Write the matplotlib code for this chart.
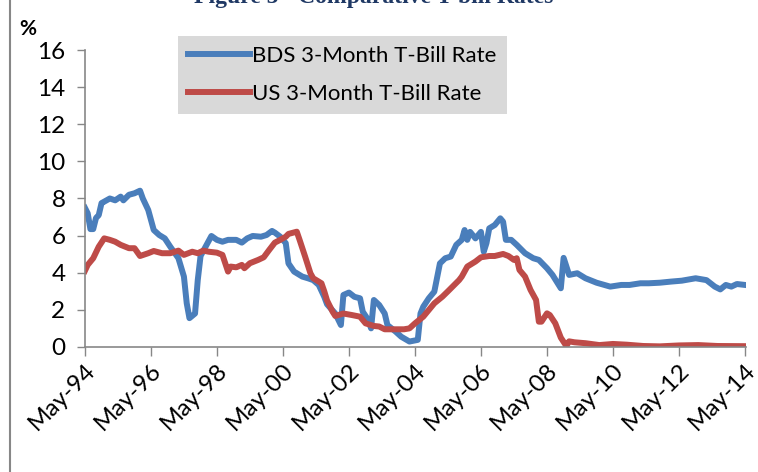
import matplotlib
matplotlib.use("Agg")
import matplotlib.pyplot as plt
import matplotlib.dates as mdates
import matplotlib.transforms as mtransforms
from matplotlib.lines import Line2D
from matplotlib.patches import Rectangle
import pandas as pd

# BDS 3-month T-bill rate (month, %)
BDS_DATES = [
    "1994-05", "1994-06", "1994-07", "1994-08", "1994-09", "1994-10", "1994-11", "1994-12",
    "1995-02", "1995-04", "1995-06", "1995-07", "1995-09", "1995-11", "1996-01", "1996-02",
    "1996-04", "1996-06", "1996-08", "1996-10", "1996-12", "1997-03", "1997-05", "1997-06",
    "1997-07", "1997-09", "1997-10", "1997-11", "1998-01", "1998-03", "1998-05", "1998-07",
    "1998-09", "1998-12", "1999-02", "1999-04", "1999-06", "1999-09", "1999-11", "2000-01",
    "2000-02", "2000-04", "2000-06", "2000-07", "2000-09", "2000-12", "2001-02", "2001-04",
    "2001-06", "2001-08", "2001-09", "2001-12", "2002-02", "2002-03", "2002-05", "2002-07",
    "2002-09", "2002-10", "2002-12", "2003-01", "2003-02", "2003-04", "2003-06", "2003-07",
    "2003-10", "2003-12", "2004-03", "2004-06", "2004-07", "2004-08", "2004-10", "2004-12",
    "2005-02", "2005-04", "2005-06", "2005-08", "2005-10", "2005-11", "2005-12", "2006-01",
    "2006-03", "2006-05", "2006-06", "2006-07", "2006-08", "2006-10", "2006-12", "2007-01",
    "2007-02", "2007-04", "2007-06", "2007-09", "2007-12", "2008-02", "2008-05", "2008-07",
    "2008-10", "2008-11", "2009-01", "2009-04", "2009-07", "2009-11", "2010-04", "2010-08",
    "2010-11", "2011-03", "2011-06", "2011-10", "2012-02", "2012-06", "2012-11", "2013-03",
    "2013-06", "2013-08", "2013-10", "2013-12", "2014-02", "2014-05",
]
BDS_RATE = [
    7.5, 7.2, 6.35, 6.35, 6.95, 7.1, 7.75, 7.83,
    8.0, 7.9, 8.1, 7.9, 8.2, 8.28, 8.42, 8.0,
    7.38, 6.3, 6.03, 5.85, 5.4, 4.78, 3.79, 2.35,
    1.55, 1.8, 3.6, 4.9, 5.45, 5.98, 5.77, 5.67,
    5.77, 5.77, 5.62, 5.85, 5.98, 5.94, 6.03, 6.25,
    6.16, 5.94, 5.59, 4.5, 4.06, 3.79, 3.7, 3.6,
    3.34, 2.7, 2.3, 1.8, 1.18, 2.8, 2.93, 2.7,
    2.62, 1.9, 1.45, 1.0, 2.53, 2.26, 1.8, 1.18,
    0.82, 0.55, 0.29, 0.38, 1.8, 2.17, 2.62, 2.98,
    4.5, 4.78, 4.87, 5.5, 5.77, 6.3, 5.77, 6.2,
    5.85, 6.2, 5.13, 5.59, 6.39, 6.57, 6.93, 6.75,
    5.77, 5.77, 5.5, 5.05, 4.78, 4.69, 4.24, 3.88,
    3.16, 4.8, 3.88, 3.97, 3.7, 3.46, 3.25, 3.34,
    3.34, 3.43, 3.43, 3.46, 3.52, 3.57, 3.7, 3.6,
    3.25, 3.1, 3.34, 3.25, 3.39, 3.34,
]

# US 3-month T-bill rate (month, %)
US_DATES = [
    "1994-05", "1994-06", "1994-08", "1994-10", "1994-12", "1995-02", "1995-04", "1995-06",
    "1995-09", "1995-11", "1996-01", "1996-04", "1996-06", "1996-09", "1996-12", "1997-03",
    "1997-05", "1997-08", "1997-10", "1997-12", "1998-02", "1998-05", "1998-07", "1998-09",
    "1998-10", "1998-12", "1999-02", "1999-03", "1999-05", "1999-08", "1999-10", "1999-12",
    "2000-02", "2000-04", "2000-06", "2000-07", "2000-10", "2000-11", "2001-01", "2001-03",
    "2001-04", "2001-06", "2001-07", "2001-08", "2001-09", "2001-11", "2001-12", "2002-03",
    "2002-06", "2002-09", "2002-11", "2003-02", "2003-04", "2003-06", "2003-10", "2004-01",
    "2004-03", "2004-05", "2004-08", "2004-10", "2004-12", "2005-03", "2005-05", "2005-09",
    "2005-10", "2005-12", "2006-03", "2006-05", "2006-08", "2006-10", "2007-01", "2007-03",
    "2007-05", "2007-06", "2007-07", "2007-09", "2007-11", "2008-01", "2008-02", "2008-03",
    "2008-05", "2008-06", "2008-08", "2008-10", "2008-12", "2009-01", "2009-03", "2009-07",
    "2009-12", "2010-05", "2010-10", "2011-04", "2011-10", "2012-05", "2012-12", "2013-07",
    "2014-05",
]
US_RATE = [
    4.1, 4.42, 4.78, 5.4, 5.85, 5.77, 5.67, 5.5,
    5.32, 5.32, 4.9, 5.05, 5.17, 5.05, 5.05, 5.19,
    4.96, 5.13, 5.05, 5.19, 5.13, 5.08, 4.96, 4.06,
    4.33, 4.29, 4.42, 4.24, 4.51, 4.69, 4.83, 5.23,
    5.62, 5.77, 5.94, 6.09, 6.21, 5.77, 4.87, 3.97,
    3.7, 3.52, 3.43, 3.0, 2.5, 1.9, 1.67, 1.8,
    1.72, 1.63, 1.27, 1.13, 1.1, 0.95, 0.95, 0.95,
    1.0, 1.27, 1.63, 1.99, 2.35, 2.71, 3.0, 3.6,
    3.79, 4.33, 4.6, 4.83, 4.9, 4.9, 5.01, 4.9,
    4.69, 4.78, 4.15, 3.79, 3.07, 2.53, 1.36, 1.36,
    1.81, 1.72, 1.27, 0.5, 0.05, 0.3, 0.25, 0.2,
    0.1, 0.16, 0.12, 0.05, 0.03, 0.08, 0.1, 0.05,
    0.04,
]

TICK_DATES = ["1994-05", "1996-05", "1998-05", "2000-05", "2002-05", "2004-05",
              "2006-05", "2008-05", "2010-05", "2012-05", "2014-05"]
Y_TICKS = [0, 2, 4, 6, 8, 10, 12, 14, 16]

BLUE = "#4a7ebb"
RED = "#be4b48"
GREY = "#878787"
FONT = ["Lato", "DejaVu Sans"]
FS = 16
TICK_FS = 17.5

plt.rcParams["font.family"] = FONT

fig = plt.figure(figsize=(7.58, 4.72), dpi=100)
ax = fig.add_axes([0.112, 0.265, 0.872, 0.629])

bds_x = pd.to_datetime(BDS_DATES)
us_x = pd.to_datetime(US_DATES)
ax.plot(bds_x, BDS_RATE, color=BLUE, lw=4.3, solid_joinstyle="round")
ax.plot(us_x, US_RATE, color=RED, lw=4.3, solid_joinstyle="round")

ticks = pd.to_datetime(TICK_DATES)
ax.set_xlim(ticks[0], ticks[-1] + pd.Timedelta(days=10))
ax.set_ylim(0, 16)
ax.set_xticks(ticks)
ax.xaxis.set_major_formatter(mdates.DateFormatter("%b-%y"))
ax.set_yticks(Y_TICKS)
ax.tick_params(axis="x", direction="out", length=6.5, width=1, color=GREY,
               labelsize=TICK_FS, pad=5)
ax.tick_params(axis="y", direction="out", length=6, width=1, color=GREY,
               labelsize=TICK_FS, pad=8)
# Excel-style 45 degree date labels, ending just right of the tick
shift = mtransforms.ScaledTranslation(5 / 72, -3 / 72, fig.dpi_scale_trans)
for lbl in ax.get_xticklabels():
    lbl.set_rotation(45)
    lbl.set_ha("right")
    lbl.set_va("center")
    lbl.set_rotation_mode("anchor")
    lbl.set_transform(lbl.get_transform() + shift)
for side in ("top", "right"):
    ax.spines[side].set_visible(False)
for side in ("left", "bottom"):
    ax.spines[side].set_color(GREY)
    ax.spines[side].set_linewidth(1.2)

# legend in a grey box, no border
handles = [Line2D([0], [0], color=BLUE, lw=4.3), Line2D([0], [0], color=RED, lw=4.3)]
leg = fig.legend(handles, ["BDS 3-Month T-Bill Rate", "US 3-Month T-Bill Rate"],
                 loc="upper left", bbox_to_anchor=(178 / 758, 1 - 36 / 472),
                 frameon=True, fancybox=False, fontsize=FS, handlelength=2.8,
                 handletextpad=0.1, labelspacing=0.82, borderpad=0.45,
                 borderaxespad=0)
leg.get_frame().set_facecolor("#d9d9d9")
leg.get_frame().set_edgecolor("none")
leg.get_frame().set_alpha(1)

fig.text(19 / 758, 1 - 29 / 472, "%", fontsize=15, fontweight="bold", va="center")

# outer chart frame, cut off by the page crop on the right and bottom
fig.patches.append(Rectangle((10 / 758, -0.2), 1.2, 1.2 + 1 - 9 / 472,
                             transform=fig.transFigure, fill=False,
                             edgecolor=GREY, lw=1.5))

# report caption, mostly cropped off the top
fig.text(374 / 758, 1 - 2.5 / 472, "Figure 5 - Comparative T-bill Rates",
         family=["Liberation Serif", "DejaVu Serif"], fontweight="bold",
         fontsize=17, color="#1f3864", ha="center", va="baseline")

fig.savefig("out.png", dpi=100)
